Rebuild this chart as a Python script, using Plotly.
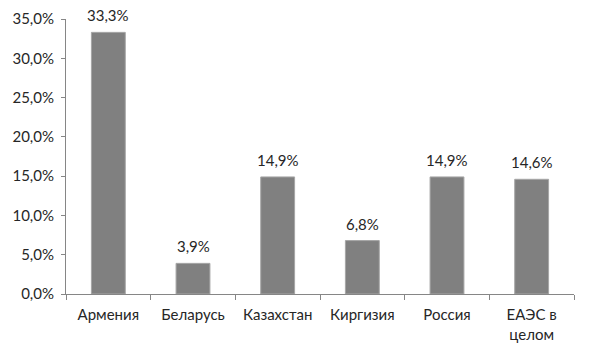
import plotly.graph_objects as go

categories = ["Армения", "Беларусь", "Казахстан", "Киргизия", "Россия", "ЕАЭС в<br>целом"]
values = [33.3, 3.9, 14.9, 6.8, 14.9, 14.6]
y_ticks = [0, 5, 10, 15, 20, 25, 30, 35]
y_tick_labels = ["0,0%", "5,0%", "10,0%", "15,0%", "20,0%", "25,0%", "30,0%", "35,0%"]

fig = go.Figure(go.Bar(
    x=categories, y=values,
    marker=dict(color="#808080", line=dict(color="#a6a6a6", width=1)),
    cliponaxis=False,
))

for c, v in zip(categories, values):
    fig.add_annotation(
        x=c, y=v, text=f"{v:.1f}%".replace(".", ","),
        showarrow=False, yanchor="bottom", yshift=6,
        font=dict(size=15, color="#262626"),
    )

fig.update_layout(
    width=592, height=356,
    margin=dict(l=66, r=18, t=19, b=62, autoexpand=False),
    paper_bgcolor="white", plot_bgcolor="white",
    bargap=0.6,
    separators=", ",
    font=dict(family="Lato, Open Sans, sans-serif", size=15, color="#262626"),
    showlegend=False,
)
fig.update_xaxes(
    showline=True, linecolor="#868686", linewidth=1,
    ticks="outside", tickson="boundaries", ticklen=5, tickcolor="#868686",
    showgrid=False, tickfont=dict(size=15), automargin=False,
    ticklabelstandoff=7,
)
fig.update_yaxes(
    range=[0, 35], tickvals=y_ticks, ticktext=y_tick_labels,
    showline=True, linecolor="#868686", linewidth=1,
    ticks="outside", ticklen=4, tickcolor="#868686",
    showgrid=False, zeroline=False, tickfont=dict(size=15), automargin=False,
    ticklabelstandoff=4,
)

fig.write_html("out.html", post_script="document.body.style.margin='0';",
               config={"displayModeBar": False})
